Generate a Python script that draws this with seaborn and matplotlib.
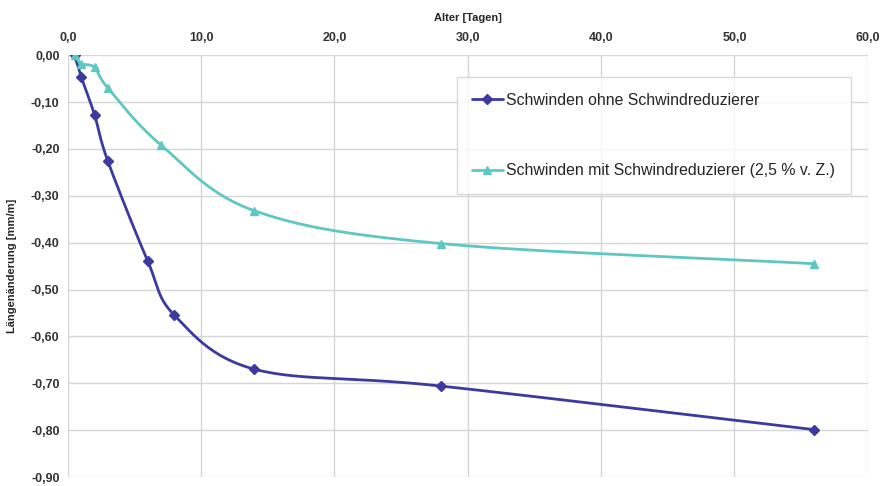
import numpy as np
import pandas as pd
import matplotlib
matplotlib.use("Agg")
import matplotlib.pyplot as plt
import matplotlib.ticker as mticker
import seaborn as sns

alter_ohne = [0.5, 1, 2, 3, 6, 8, 14, 28, 56]
schwinden_ohne = [0.0, -0.046, -0.127, -0.226, -0.44, -0.555, -0.67, -0.706, -0.799]

alter_mit = [0.5, 1, 2, 3, 7, 14, 28, 56]
schwinden_mit = [0.0, -0.018, -0.026, -0.07, -0.192, -0.332, -0.402, -0.445]

label_ohne = "Schwinden ohne Schwindreduzierer"
label_mit = "Schwinden mit Schwindreduzierer (2,5 % v. Z.)"

farbe_ohne = "#3c3a9e"
farbe_mit = "#5fc7c1"


def glatt(x, y, n=30):
    # Excel-artige geglaettete Linie (Catmull-Rom) nur fuer die Darstellung
    x = np.asarray(x, float)
    y = np.asarray(y, float)
    px = np.concatenate([[2 * x[0] - x[1]], x, [2 * x[-1] - x[-2]]])
    py = np.concatenate([[2 * y[0] - y[1]], y, [2 * y[-1] - y[-2]]])
    xs, ys = [], []
    t = np.linspace(0, 1, n)
    for i in range(1, len(px) - 2):
        for p, out in ((px, xs), (py, ys)):
            p0, p1, p2, p3 = p[i - 1], p[i], p[i + 1], p[i + 2]
            out.extend(0.5 * ((2 * p1) + (-p0 + p2) * t
                              + (2 * p0 - 5 * p1 + 4 * p2 - p3) * t ** 2
                              + (-p0 + 3 * p1 - 3 * p2 + p3) * t ** 3))
    return np.array(xs), np.array(ys)


sns.set_style("white")
plt.rcParams["font.family"] = ["Liberation Sans", "DejaVu Sans"]

fig = plt.figure(figsize=(8.81, 4.86), dpi=100)
ax = fig.add_axes([0.077, 0.0185, 0.908, 0.868])

for xs, ys, farbe, marker, ms, lab in [
    (alter_ohne, schwinden_ohne, farbe_ohne, "D", 5, label_ohne),
    (alter_mit, schwinden_mit, farbe_mit, "^", 6, label_mit),
]:
    gx, gy = glatt(xs, ys)
    df = pd.DataFrame({"x": gx, "y": gy})
    sns.lineplot(data=df, x="x", y="y", sort=False, color=farbe, lw=2, ax=ax)
    ax.plot(xs, ys, ls="none", marker=marker, ms=ms, color=farbe)
    ax.plot([], [], color=farbe, lw=2, marker=marker, ms=ms, label=lab)

ax.set_xlim(0, 60)
ax.set_ylim(-0.9, 0)
ax.set_xticks(np.arange(0, 61, 10))
ax.set_yticks(np.arange(-0.9, 0.001, 0.1))
ax.xaxis.set_major_formatter(mticker.FuncFormatter(lambda v, p: f"{v:.1f}".replace(".", ",")))
ax.yaxis.set_major_formatter(mticker.FuncFormatter(lambda v, p: f"{v:.2f}".replace(".", ",").replace("-0,00", "0,00")))
ax.xaxis.tick_top()
ax.xaxis.set_label_position("top")
ax.tick_params(axis="y", length=0, labelsize=9, colors="#333333", pad=6)
ax.tick_params(axis="x", length=0, labelsize=9, colors="#333333", pad=8)
for lbl in ax.get_xticklabels() + ax.get_yticklabels():
    lbl.set_fontweight("bold")
ax.grid(True, color="#d6d6d6", lw=1)
for s in ax.spines.values():
    s.set_visible(False)

ax.set_xlabel("Alter [Tagen]", fontsize=8, fontweight="bold", labelpad=8)
ax.set_ylabel("Längenänderung [mm/m]", fontsize=8, fontweight="bold", labelpad=10)

leg = ax.legend(loc="upper left", bbox_to_anchor=(0.486, 0.948), fontsize=11.4,
                labelspacing=3.5, handlelength=1.9, handletextpad=0.2,
                borderpad=1.0, borderaxespad=0, frameon=True, fancybox=False)
leg.get_frame().set_edgecolor("#d0d0d0")
leg.get_frame().set_linewidth(1)

fig.savefig("out.png", dpi=100)
